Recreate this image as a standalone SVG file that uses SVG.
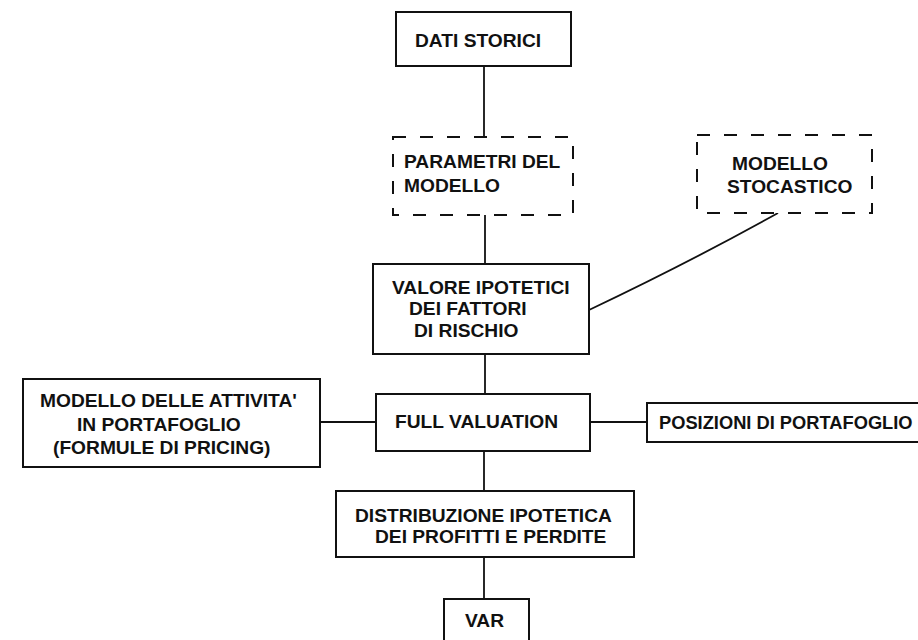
<svg xmlns="http://www.w3.org/2000/svg" width="918" height="640" viewBox="0 0 918 640">
<style>
.box{fill:#fff;stroke:#111;stroke-width:2}
.dash{fill:#fff;stroke:#111;stroke-width:2;stroke-dasharray:13 14}
.ln{fill:none;stroke:#111;stroke-width:1.8}
text{font-family:"Liberation Sans",Arial,sans-serif;font-weight:bold;font-size:19.2px;fill:#111}
</style>
<rect width="918" height="640" fill="#fff"/>
<g id="connectors">
<line class="ln" x1="484" y1="66" x2="484" y2="137"/>
<line class="ln" x1="485" y1="215" x2="485" y2="264"/>
<path class="ln" d="M589 310 Q690 262 778 213"/>
<line class="ln" x1="485" y1="354" x2="485" y2="394"/>
<line class="ln" x1="320" y1="422" x2="376" y2="422"/>
<line class="ln" x1="590" y1="422" x2="647" y2="422"/>
<line class="ln" x1="484" y1="451" x2="484" y2="491"/>
<line class="ln" x1="484" y1="557" x2="484" y2="599"/>
</g>
<g id="dati-storici">
<rect class="box" x="396" y="12" width="175" height="54"/>
<text x="415" y="47">DATI STORICI</text>
</g>
<g id="parametri">
<rect class="dash" x="393" y="137" width="180" height="78"/>
<text x="404" y="168">PARAMETRI DEL</text>
<text x="404" y="192">MODELLO</text>
</g>
<g id="modello-stocastico">
<rect class="dash" x="697" y="135" width="175" height="78"/>
<text x="732" y="170">MODELLO</text>
<text x="727" y="193">STOCASTICO</text>
</g>
<g id="valore">
<rect class="box" x="373" y="264" width="216" height="90"/>
<text x="392" y="294">VALORE IPOTETICI</text>
<text x="409" y="315">DEI FATTORI</text>
<text x="414" y="337">DI RISCHIO</text>
</g>
<g id="modello-attivita">
<rect class="box" x="23" y="379" width="297" height="88"/>
<text x="40" y="407">MODELLO DELLE ATTIVITA'</text>
<text x="77" y="431">IN PORTAFOGLIO</text>
<text x="53" y="454">(FORMULE DI PRICING)</text>
</g>
<g id="full-valuation">
<rect class="box" x="376" y="394" width="214" height="57"/>
<text x="395" y="428">FULL VALUATION</text>
</g>
<g id="posizioni">
<rect class="box" x="647" y="403" width="290" height="39"/>
<text x="659" y="429" style="font-size:18.3px">POSIZIONI DI PORTAFOGLIO</text>
</g>
<g id="distribuzione">
<rect class="box" x="336" y="491" width="298" height="66"/>
<text x="355" y="522">DISTRIBUZIONE IPOTETICA</text>
<text x="375" y="543">DEI PROFITTI E PERDITE</text>
</g>
<g id="var">
<rect class="box" x="444" y="599" width="85" height="44"/>
<text x="465" y="627">VAR</text>
</g>
</svg>
